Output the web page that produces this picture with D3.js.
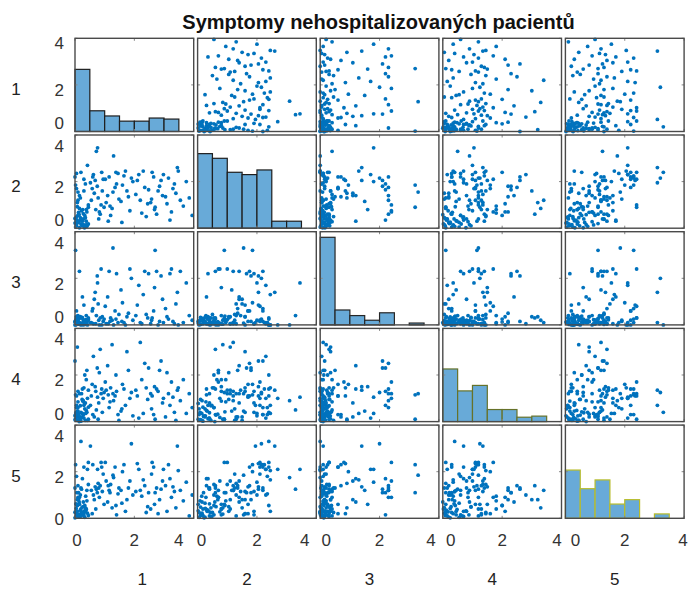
<!DOCTYPE html>
<html>
<head>
<meta charset="utf-8">
<script src="https://cdn.jsdelivr.net/npm/d3@7"></script>
<style>
  body { margin: 0; background: #fff; }
  text { font-family: "Liberation Sans", Arial, sans-serif; }
</style>
</head>
<body>
<script>
// symptom scores, one array per symptom, same patient order in all five
var symptom1 = [
  0.05,0.12,0.02,0.20,0.30,0.08,0.15,0.25,0.35,0.00, 0.10,0.40,0.18,0.05,0.28,0.42,0.10,0.22,0.03,0.33,
  0.15,0.06,0.38,0.24,0.12,0.00,0.45,0.08,0.20,0.32, 0.14,0.04,0.26,0.36,0.18,
  0.10,0.30,0.05,0.40,0.20,0.15,0.45,0.00,0.35,0.25, 0.08,0.42,0.12,0.30,0.05,0.38,0.18,0.02,0.28,0.45,
  0.10,0.22,0.33,
  0.55,0.60,0.70,0.75,0.80,0.90,0.65,0.85,0.95,0.58, 0.72,0.88,0.62,0.78,0.98,0.52,0.68,0.82,0.92,0.76,
  1.05,1.15,1.25,1.35,1.45,1.10,1.20,1.30,1.40,1.48, 1.02,1.18,1.28,1.38,1.12,
  1.55,1.65,1.75,1.85,1.95,1.60,1.70,1.80,1.90,1.58, 2.05,2.15,2.25,2.35,2.45,2.10,2.20,2.30,2.40,2.48,
  2.55,2.65,2.75,2.85,2.95,2.60,2.70,2.80,2.90,2.58, 2.68,2.98,3.05,3.15,3.25,3.35,3.45,3.10,3.20,3.30,
  3.40,3.48,3.55,3.65,3.75,3.85,3.95
];
var symptom2 = [
  0.10,0.25,0.05,0.18,0.40,0.32,0.02,0.12,0.45,0.22, 0.55,0.08,0.35,0.48,0.62,0.15,0.28,0.75,0.40,0.05,
  0.85,0.20,0.30,0.10,0.68,0.42,0.18,0.92,0.38,0.02, 0.58,0.26,0.80,0.14,0.45,
  1.20,2.10,1.70,0.70,2.40,1.40,0.90,2.20,1.90,0.30, 1.10,2.70,0.60,1.60,2.35,0.80,1.30,1.85,0.15,1.00,
  1.55,0.40,0.55,
  1.20,2.20,0.80,1.80,0.40,2.40,1.50,0.60,2.10,1.70, 3.30,1.00,2.30,1.30,0.90,1.95,2.05,0.70,1.60,3.45,
  1.10,2.20,0.85,1.75,2.35,1.40,0.55,3.10,1.90,1.25, 2.10,0.95,1.55,2.40,0.30,
  1.15,2.25,1.60,0.75,2.00,1.85,2.45,1.35,2.15,0.25, 1.45,2.30,0.65,1.75,1.05,2.05,1.20,2.45,0.50,1.65,
  1.10,2.20,0.60,1.80,1.40,2.40,0.90,1.60,2.05,1.25, 0.80,2.30,1.35,2.15,0.70,1.90,2.60,1.05,0.35,1.70,
  1.50,2.45,1.20,0.95,2.00,1.30,0.55
];
var symptom3 = [
  0.02,0.10,0.00,0.05,0.15,0.25,0.08,0.30,0.02,0.12, 0.05,0.20,0.35,0.10,0.00,0.18,0.40,0.08,0.22,0.12,
  0.03,0.28,0.06,0.32,0.14,0.00,0.25,0.38,0.02,0.16, 0.10,0.34,0.04,0.22,0.30,
  0.05,0.20,0.60,0.10,0.00,2.30,0.30,0.15,0.05,1.20, 0.35,0.00,0.25,0.85,0.10,0.40,0.05,3.20,0.18,0.22,
  0.08,0.30,0.12,
  0.10,0.70,0.05,2.10,0.20,0.00,1.10,0.30,0.15,0.60, 0.40,2.40,0.05,0.90,0.25,0.10,1.40,0.00,0.35,1.80,
  0.05,2.30,0.20,0.60,0.10,1.20,0.30,0.00,2.20,0.45, 0.80,0.15,3.30,0.25,0.05,
  1.50,0.10,0.35,2.40,0.20,0.95,0.00,0.50,2.00,0.15, 0.40,1.70,0.05,2.30,0.30,0.85,0.10,1.30,0.45,2.20,
  0.05,0.60,2.30,0.15,1.10,0.30,3.20,0.00,2.10,0.20, 1.60,0.10,0.70,0.25,2.40,0.05,1.40,0.35,2.20,0.15,
  0.90,0.00,2.30,0.10,1.80,0.40,0.20
];
var symptom4 = [
  0.08,0.20,0.30,0.02,0.15,0.45,0.10,0.35,0.05,0.25, 0.60,0.40,0.12,0.70,0.28,0.05,0.85,0.18,0.38,0.55,
  0.10,0.22,0.48,0.95,0.32,0.08,0.62,0.42,0.15,0.78, 0.00,0.25,0.88,0.35,0.68,
  1.30,0.70,1.10,2.20,0.40,1.20,0.10,2.60,0.80,1.40, 3.20,1.00,0.30,1.45,0.60,1.80,0.20,1.15,0.90,1.35,
  0.45,1.20,2.00,
  1.10,0.30,1.30,2.30,0.80,1.40,0.20,3.10,1.00,1.60, 0.50,1.20,2.80,0.10,1.25,0.70,1.50,2.10,0.40,1.05,
  1.35,0.60,3.30,1.10,0.30,2.40,1.45,0.90,1.30,0.05, 1.70,0.85,1.20,2.00,1.15,
  0.45,1.40,3.00,1.00,0.25,1.60,0.70,2.20,1.25,0.55, 1.35,0.15,1.80,2.50,0.95,1.10,3.40,0.35,1.45,2.30,
  1.20,0.30,1.40,2.20,0.80,1.10,0.10,1.30,2.60,0.55, 1.50,1.00,0.20,1.20,1.70,0.40,1.35,2.10,0.70,1.05,
  0.05,1.45,0.90,1.80,0.35,1.20,0.60
];
var symptom5 = [
  0.12,0.05,0.25,0.40,0.10,0.30,0.60,0.20,0.45,0.02, 0.15,0.75,0.35,0.08,0.50,0.22,0.90,0.28,0.62,0.04,
  0.18,1.10,0.38,0.48,0.80,0.26,0.12,0.55,1.30,0.32, 0.70,0.42,0.15,0.95,0.08,
  1.40,2.20,0.60,1.20,3.30,0.90,2.40,1.30,0.30,1.70, 0.80,2.10,1.10,0.20,1.80,0.40,1.00,2.30,0.70,1.45,
  0.15,1.25,0.55,
  1.20,2.30,0.40,1.10,1.30,2.20,0.80,1.40,1.90,0.20, 1.25,2.40,1.00,1.50,0.60,3.10,1.35,0.90,1.15,2.10,
  1.60,1.20,0.45,2.20,1.05,0.70,1.45,1.75,0.15,1.30, 2.40,1.10,1.85,0.55,1.40,
  1.20,2.30,0.80,1.60,1.00,2.00,0.30,1.30,3.20,0.65, 1.15,2.10,0.95,1.40,0.50,2.35,1.20,1.65,0.25,1.10,
  0.40,2.20,1.30,0.80,1.60,2.40,1.10,0.20,1.25,1.90, 0.60,2.10,1.40,2.30,0.90,1.15,3.10,0.30,1.70,1.35,
  0.45,2.05,1.20,0.75,1.55,0.10,1.00
];

// histogram bars on the diagonal (bin counts, 0.5 wide bins starting at 0)
var binWidth = 0.5;
var histCounts1 = [60, 20, 15, 10, 10, 13, 12];
var histCounts2 = [32, 30, 24, 23, 25, 3, 3];
var histCounts3 = [94, 16, 10, 5, 13, 0, 2];
var histCounts4 = [48, 28, 33, 11, 11, 4, 5, 0];
var histCounts5 = [44, 27, 35, 13, 17, 0, 4];
var histYMax = [90, 40, 100, 85, 85];

var varLabels = ["1", "2", "3", "4", "5"];
var tickValues = [0, 2, 4];
var title = "Symptomy nehospitalizovaných pacientů";

var vars = [symptom1, symptom2, symptom3, symptom4, symptom5];
var hists = [histCounts1, histCounts2, histCounts3, histCounts4, histCounts5];
var histEdge = ["#1e1e1e", "#1e1e1e", "#262626", "#66722a", "#b8bc2a"];

var W = 691, H = 589;
var gridLeft = 75, gridTop = 38.3, stepX = 122.6, stepY = 96.7;
var cellW = 118.7, cellH = 93.2;
var nPts = d3.min(vars, function (v) { return v.length; });

var svg = d3.select("body").append("svg")
  .attr("width", W)
  .attr("height", H);

svg.append("text")
  .attr("x", 378.5)
  .attr("y", 29)
  .attr("text-anchor", "middle")
  .style("font-size", "20px")
  .style("font-weight", "bold")
  .attr("fill", "#111")
  .text(title);

var x = d3.scaleLinear().domain([0, 4]).range([0, cellW]);
var y = d3.scaleLinear().domain([0, 4]).range([cellH, 0]);

for (var r = 0; r < 5; r++) {
  for (var c = 0; c < 5; c++) {
    var g = svg.append("g")
      .attr("transform", "translate(" + (gridLeft + c * stepX) + "," + (gridTop + r * stepY) + ")");

    if (r === c) {
      var hy = d3.scaleLinear().domain([0, histYMax[r]]).range([cellH, 0]);
      g.selectAll("rect.bar")
        .data(hists[r])
        .enter().append("rect")
        .attr("class", "bar")
        .attr("x", function (d, i) { return x(i * binWidth); })
        .attr("width", x(binWidth) - x(0))
        .attr("y", function (d) { return hy(d); })
        .attr("height", function (d) { return cellH - hy(d); })
        .attr("fill", "#68aad8")
        .attr("stroke", histEdge[r])
        .attr("stroke-width", 1.2);
    } else {
      var xs = vars[c], ys = vars[r];
      g.selectAll("circle")
        .data(d3.range(nPts))
        .enter().append("circle")
        .attr("cx", function (i) { return x(xs[i]); })
        .attr("cy", function (i) { return y(ys[i]); })
        .attr("r", 1.9)
        .attr("fill", "#0072bd");
    }

    // inner tick marks on all four sides
    tickValues.forEach(function (t) {
      g.append("line").attr("x1", x(t)).attr("x2", x(t)).attr("y1", cellH).attr("y2", cellH - 2.5).attr("stroke", "#888");
      g.append("line").attr("x1", x(t)).attr("x2", x(t)).attr("y1", 0).attr("y2", 2.5).attr("stroke", "#888");
      g.append("line").attr("y1", y(t)).attr("y2", y(t)).attr("x1", 0).attr("x2", 2.5).attr("stroke", "#888");
      g.append("line").attr("y1", y(t)).attr("y2", y(t)).attr("x1", cellW).attr("x2", cellW - 2.5).attr("stroke", "#888");
    });

    g.append("rect")
      .attr("width", cellW)
      .attr("height", cellH)
      .attr("fill", "none")
      .attr("stroke", "#4a4a4a")
      .attr("stroke-width", 1.4);
  }
}

// y tick labels on the first column; end labels sit a little inside the panel
for (var r = 0; r < 5; r++) {
  tickValues.forEach(function (t) {
    var dy = t === 4 ? (r === 0 ? 5 : 11) : t === 2 ? 5.5 : (r < 4 ? -8 : 1);
    svg.append("text")
      .attr("x", 64)
      .attr("y", gridTop + r * stepY + y(t) + dy)
      .attr("dy", "0.35em")
      .attr("text-anchor", "end")
      .style("font-size", "17px")
      .attr("fill", "#333")
      .text(t);
  });
  svg.append("text")
    .attr("x", 16)
    .attr("y", gridTop + r * stepY + cellH / 2 + 4)
    .attr("dy", "0.35em")
    .attr("text-anchor", "middle")
    .style("font-size", "17px")
    .attr("fill", "#222")
    .text(varLabels[r]);
}

// x tick labels under the bottom row
for (var c = 0; c < 5; c++) {
  tickValues.forEach(function (t) {
    var dx = t === 0 ? 2 + 2 * c : t === 4 ? -15 + 3.5 * c : 0;
    svg.append("text")
      .attr("x", gridLeft + c * stepX + x(t) + dx)
      .attr("y", gridTop + 4 * stepY + cellH + 22)
      .attr("dy", "0.35em")
      .attr("text-anchor", "middle")
      .style("font-size", "17px")
      .attr("fill", "#333")
      .text(t);
  });
  svg.append("text")
    .attr("x", gridLeft + c * stepX + cellW / 2 + (c === 0 ? 8 : -10))
    .attr("y", 579)
    .attr("dy", "0.35em")
    .attr("text-anchor", "middle")
    .style("font-size", "17px")
    .attr("fill", "#222")
    .text(varLabels[c]);
}
</script>
</body>
</html>
